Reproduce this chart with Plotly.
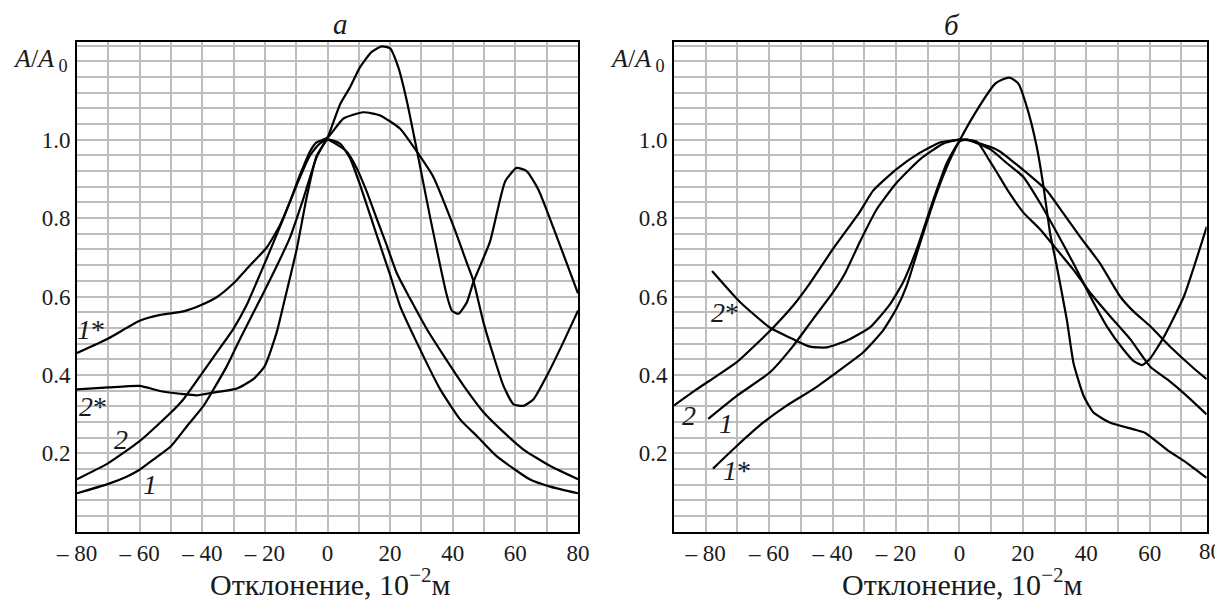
import plotly.graph_objects as go

# ---------------- panel "а" ----------------
a1_x = [-80, -70, -64, -60, -55.6, -50, -44.9, -39.6, -36.4, -32.1, -27.9, -23.6, -18.2, -12, -7.7, -3.5, 0,
        4, 7.2, 10.4, 13.6, 16.8, 20, 23.2, 28.5, 36, 42.4, 47.7, 54.1, 64.7, 71.1, 80]
a1_y = [0.098, 0.122, 0.141, 0.158, 0.184, 0.218, 0.269, 0.321, 0.363, 0.423, 0.492, 0.56, 0.645, 0.75, 0.85, 0.955, 1.0,
        0.99, 0.953, 0.885, 0.808, 0.731, 0.655, 0.575, 0.483, 0.363, 0.286, 0.244, 0.192, 0.133, 0.115, 0.098]

a2_x = [-80, -70, -60, -50, -46, -40.7, -35.4, -30.1, -25.9, -22.6, -19.4, -14.1, -9.8, -5.6, -2.5, 0,
        6.1, 9.3, 12.5, 15.7, 18.9, 22.1, 26.4, 31.7, 37.1, 43.5, 49.9, 55.3, 62.7, 71.3, 80]
a2_y = [0.134, 0.175, 0.231, 0.304, 0.338, 0.397, 0.457, 0.517, 0.577, 0.637, 0.697, 0.799, 0.885, 0.96, 0.99, 1.0,
        0.97, 0.928, 0.868, 0.799, 0.731, 0.66, 0.594, 0.517, 0.449, 0.372, 0.304, 0.261, 0.209, 0.167, 0.134]

a1s_x = [-80, -70, -60, -53.5, -46, -40.7, -35.4, -30.1, -24.8, -19.4, -15.2, -12, -8.8, -5.6, -3.5, 0,
         5.1, 11.4, 16.8, 23.2, 28.5, 33.8, 40.2, 44.4, 46.6, 49.8, 53, 56.2, 59.4, 62.6, 65.8, 70, 75.3, 80]
a1s_y = [0.456, 0.493, 0.538, 0.553, 0.562, 0.577, 0.598, 0.633, 0.679, 0.725, 0.782, 0.842, 0.91, 0.97, 0.993, 1.005,
         1.054, 1.07, 1.062, 1.028, 0.97, 0.905, 0.78, 0.688, 0.64, 0.534, 0.449, 0.372, 0.325, 0.321, 0.338, 0.397, 0.483, 0.564]

a2s_x = [-80, -70, -60, -53.5, -46, -41.8, -36.5, -29, -23.7, -20, -16.2, -13.6, -9.8, -6.6, -3.5, 0,
         4, 7.2, 10.4, 14.1, 17.3, 20, 22.6, 25.3, 28.5, 32.7, 38.1, 39.7, 41.8, 44.5, 46.6, 51.9, 56.7,
         60.4, 63.6, 67.4, 73.2, 80]
a2s_y = [0.363, 0.368, 0.372, 0.359, 0.351, 0.348, 0.355, 0.365, 0.389, 0.423, 0.509, 0.594, 0.722, 0.855, 0.958, 1.005,
         1.09, 1.134, 1.185, 1.224, 1.238, 1.233, 1.185, 1.1, 0.975, 0.805, 0.603, 0.564, 0.556, 0.585, 0.637, 0.74, 0.893,
         0.928, 0.92, 0.872, 0.753, 0.608]

# ---------------- panel "б" ----------------
b2_x = [-90, -82.9, -76.6, -70.3, -64, -58.7, -52.4, -47.2, -39.8, -31.4, -27.2, -19.8, -12.4, -6.1, 0,
        2.3, 9.7, 12.8, 16, 21.3, 27.6, 32.8, 38.1, 44.4, 50.7, 54.9, 60.2, 66.5, 73.9, 78]
b2_y = [0.322, 0.363, 0.397, 0.432, 0.479, 0.521, 0.577, 0.633, 0.722, 0.816, 0.87, 0.925, 0.967, 0.993, 1.0,
        1.0, 0.982, 0.97, 0.95, 0.915, 0.87, 0.812, 0.752, 0.684, 0.6, 0.562, 0.524, 0.472, 0.417, 0.389]

b1_x = [-79.2, -70.3, -59.8, -52.4, -46.1, -39.8, -36, -31.4, -26.1, -19.8, -12.4, -5.1, 0,
        5.5, 9.7, 11.8, 15, 20.2, 25.5, 30.8, 36, 41.3, 47.6, 54, 60.2, 65.5, 71.8, 78]
b1_y = [0.288, 0.346, 0.406, 0.474, 0.543, 0.611, 0.66, 0.739, 0.822, 0.89, 0.95, 0.99, 1.0,
        0.995, 0.944, 0.917, 0.874, 0.814, 0.771, 0.719, 0.668, 0.609, 0.549, 0.49, 0.421, 0.389, 0.346, 0.299]

b1s_x = [-77.7, -70.3, -61.9, -54.6, -46.2, -38.8, -30.4, -24.1, -19.9, -16.6, -12.4, -7.2, -3, 0.2,
         5.5, 11.3, 13.4, 16, 18.6, 21.3, 24.4, 26.5, 28.6, 30.7, 33.9, 36, 39.2, 42.3, 47.6, 55, 58.6, 65.5, 71.8, 78]
b1s_y = [0.161, 0.218, 0.278, 0.321, 0.363, 0.406, 0.457, 0.513, 0.568, 0.628, 0.736, 0.863, 0.948, 1.0,
         1.075, 1.143, 1.153, 1.158, 1.143, 1.083, 0.982, 0.882, 0.762, 0.678, 0.54, 0.43, 0.346, 0.304, 0.278, 0.261, 0.252,
         0.209, 0.175, 0.137]

b2s_x = [-78, -69.2, -59.8, -52.4, -47.1, -41.9, -35.6, -28.2, -21.9, -17.7, -13.5, -8.2, -4, 0,
         2.3, 9.7, 15, 20.2, 25.5, 30.8, 36, 41.3, 46.5, 51.8, 55, 57.6, 60, 64.5, 70.8, 78]
b2s_y = [0.665, 0.586, 0.521, 0.491, 0.472, 0.47, 0.487, 0.521, 0.58, 0.637, 0.72, 0.847, 0.94, 0.995,
         1.0, 0.976, 0.94, 0.905, 0.838, 0.762, 0.684, 0.6, 0.524, 0.464, 0.435, 0.425, 0.44, 0.497, 0.6, 0.778]

x_tickvals = [-80, -60, -40, -20, 0, 20, 40, 60, 80]
x_ticktext = ["\u2013 80", "\u2013 60", "\u2013 40", "\u2013 20", "0", "20", "40", "60", "80"]
y_tickvals = [0.2, 0.4, 0.6, 0.8, 1.0]
y_ticktext = ["0.2", "0.4", "0.6", "0.8", "1.0"]

FONT = "Liberation Serif"
GRID = "#bdbdbd"
TXT = "#1a1a1a"
LINE = dict(color="black", width=2.2, shape="spline", smoothing=0.5)

fig = go.Figure()

for xs, ys in [(a1_x, a1_y), (a2_x, a2_y), (a1s_x, a1s_y), (a2s_x, a2s_y)]:
    fig.add_trace(go.Scatter(x=xs, y=ys, mode="lines", line=LINE, xaxis="x", yaxis="y",
                             showlegend=False, hoverinfo="skip"))
for xs, ys in [(b1_x, b1_y), (b2_x, b2_y), (b1s_x, b1s_y), (b2s_x, b2s_y)]:
    fig.add_trace(go.Scatter(x=xs, y=ys, mode="lines", line=LINE, xaxis="x2", yaxis="y2",
                             showlegend=False, hoverinfo="skip"))

# the page body keeps its default 8px margin, so the figure is sized to end at the window edge
OFF = 8
W, H = 1223 - OFF, 600 - OFF
def px_x(p):
    return (p - OFF) / W
def px_y(p):
    return 1 - (p - OFF) / H

xax_common = dict(
    tickmode="array", tickvals=x_tickvals, ticktext=x_ticktext, automargin=False,
    showgrid=True, gridcolor=GRID, gridwidth=1.6, zeroline=False,
    showline=True, linecolor="black", linewidth=2, mirror=True,
    ticks="", tickfont=dict(family=FONT, size=23, color=TXT),
    minor=dict(dtick=10, tick0=0, showgrid=True, gridcolor=GRID, gridwidth=1.6, ticks=""),
    fixedrange=True,
)
yax_common = dict(
    tickmode="array", tickvals=y_tickvals, ticktext=y_ticktext, range=[0, 1.25], automargin=False,
    showgrid=True, gridcolor=GRID, gridwidth=1.6, zeroline=False,
    showline=True, linecolor="black", linewidth=2, mirror=True,
    ticks="", tickfont=dict(family=FONT, size=23, color=TXT),
    minor=dict(dtick=0.04, tick0=0, showgrid=True, gridcolor=GRID, gridwidth=1.6, ticks=""),
    fixedrange=True, ticklabelstandoff=0,
)

fig.update_layout(
    template="none",
    width=W, height=H,
    margin=dict(l=0, r=0, t=0, b=0, pad=0),
    paper_bgcolor="white", plot_bgcolor="white",
    xaxis=dict(xax_common, domain=[px_x(77), px_x(578)], range=[-80, 80], anchor="y"),
    yaxis=dict(yax_common, domain=[px_y(531.7), px_y(41.7)], anchor="x"),
    xaxis2=dict(xax_common, domain=[px_x(674), px_x(1206.7)], range=[-90, 78], anchor="y2"),
    yaxis2=dict(yax_common, domain=[px_y(531.7), px_y(41.7)], anchor="x2"),
)

ann = []
# panel titles
ann.append(dict(text="<i>а</i>", x=px_x(340), y=px_y(24), xref="paper", yref="paper",
                xanchor="center", yanchor="middle", borderpad=0,
                showarrow=False, font=dict(family=FONT, size=29, color=TXT)))
ann.append(dict(text="<i>б</i>", x=px_x(952), y=px_y(25), xref="paper", yref="paper",
                xanchor="center", yanchor="middle", borderpad=0,
                showarrow=False, font=dict(family=FONT, size=29, color=TXT)))
# y labels
for xr in (70, 667):
    ann.append(dict(text="<i>A</i>/<i>A</i><sub> 0</sub>", x=px_x(xr), y=px_y(60), xref="paper", yref="paper",
                    xanchor="right", yanchor="middle", showarrow=False, font=dict(family=FONT, size=26, color=TXT)))
# x titles
for xc in (330, 962):
    ann.append(dict(text="Отклонение, 10<sup>\u22122</sup>м", x=px_x(xc), y=0, xref="paper", yref="paper",
                    xanchor="center", yanchor="bottom", yshift=-2, borderpad=0,
                    showarrow=False, font=dict(family=FONT, size=30, color=TXT)))
# "80" tick label just past the right frame of panel б
ann.append(dict(text="80", x=px_x(1210), y=px_y(551), xref="paper", yref="paper", showarrow=False,
                xanchor="center", yanchor="middle", borderpad=0, font=dict(family=FONT, size=23, color=TXT)))

# curve labels
lab_font = dict(family=FONT, size=28, color=TXT)
for txt, x, y, ax in [("<i>1</i>*", -75.5, 0.515, "x"), ("<i>2</i>*", -75, 0.32, "x"),
                      ("<i>2</i>", -66, 0.236, "x"), ("<i>1</i>", -56.7, 0.12, "x"),
                      ("<i>2</i>*", -74, 0.56, "x2"), ("<i>2</i>", -85.3, 0.297, "x2"),
                      ("<i>1</i>", -73.7, 0.277, "x2"), ("<i>1</i>*", -70, 0.155, "x2")]:
    ann.append(dict(text=txt, x=x, y=y, xref=ax, yref=ax.replace("x", "y"), showarrow=False,
                    xanchor="center", yanchor="middle", font=lab_font))

fig.update_layout(annotations=ann)
fig.write_html("out.html")
